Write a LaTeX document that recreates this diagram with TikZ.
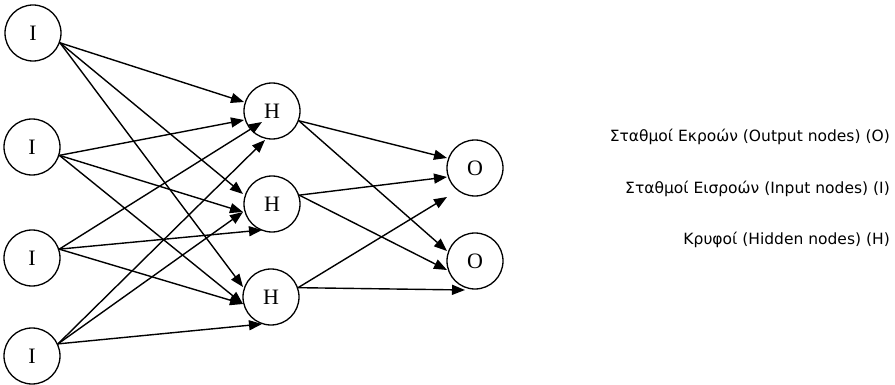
\documentclass[tikz,border=0pt]{standalone}
\usepackage{fontspec}
\setmainfont{Liberation Serif}
\newfontfamily\lblfont{DejaVu Sans}
\usetikzlibrary{arrows.meta,calc}
\begin{document}
\begin{tikzpicture}[x=1pt,y=-1pt,
  neuron/.style={circle,draw,line width=1.3pt,minimum size=56pt,inner sep=0pt,font=\fontsize{22}{22}\selectfont},
  conn/.style={line width=1.4pt,-{Triangle[length=13pt,width=10pt]}},
  lbl/.style={anchor=east,inner sep=0pt,font=\lblfont\fontsize{15.5}{16}\selectfont}]
\useasboundingbox (0,0) rectangle (895,385);
\node[neuron] (I1) at (33,33) {I};
\node[neuron] (I2) at (32,147) {I};
\node[neuron] (I3) at (32,258) {I};
\node[neuron] (I4) at (32,356) {I};
\node[neuron] (H1) at (272,111) {H};
\node[neuron] (H2) at (272,204) {H};
\node[neuron] (H3) at (271,297) {H};
\node[neuron] (O1) at (475,168) {O};
\node[neuron] (O2) at (475,261) {O};
% tips
\coordinate (a11) at ($(H1)+(-28,-9)$);
\coordinate (a12) at ($(H2)+(-29,-10)$);
\coordinate (a13) at ($(H3)+(-28,-10)$);
\coordinate (a21) at ($(H1)+(-28,9)$);
\coordinate (a22) at ($(H2)+(-29,8)$);
\coordinate (a23) at ($(H3)+(-28,7)$);
\coordinate (a31) at ($(H1)+(-10,11)$);
\coordinate (a32) at ($(H2)+(-10,26)$);
\coordinate (a33) at ($(H3)+(-28,7)$);
\coordinate (a41) at ($(H1)+(-7,29)$);
\coordinate (a42) at ($(H2)+(-29,8)$);
\coordinate (a43) at ($(H3)+(-9,27)$);
\coordinate (b11) at ($(O1)+(-28,-10)$);
\coordinate (b12) at ($(O2)+(-28,-10)$);
\coordinate (b21) at ($(O1)+(-28,9)$);
\coordinate (b22) at ($(O2)+(-28,9)$);
\coordinate (b31) at ($(O1)+(-28,29)$);
\coordinate (b32) at ($(O2)+(-10,29)$);
% input -> hidden
\draw[conn] (I1.-20) -- (a11);
\draw[conn] (I1.-20) -- (a12);
\draw[conn] (I1.-20) -- (a13);
\draw[conn] (I2.-17) -- (a21);
\draw[conn] (I2.-17) -- (a22);
\draw[conn] (I2.-17) -- (a23);
\draw[conn] (I3.18) -- (a31);
\draw[conn] (I3.18) -- (a32);
\draw[conn] (I3.18) -- (a33);
\draw[conn] (I4.25) -- (a41);
\draw[conn] (I4.25) -- (a42);
\draw[conn] (I4.25) -- (a43);
% hidden -> output
\draw[conn] (H1.-20) -- (b11);
\draw[conn] (H1.-20) -- (b12);
\draw[conn] (H2.18) -- (b21);
\draw[conn] (H2.18) -- (b22);
\draw[conn] (H3.19) -- (b31);
\draw[conn] (H3.19) -- (b32);
% legend
\node[lbl] (L1) at (890,137) {Σταθμοί Εκροών (Output nodes) (O)};
\node[lbl] (L2) at (890,189) {Σταθμοί Εισροών (Input nodes) (I)};
\node[lbl] (L3) at (890,240) {Κρυφοί (Hidden nodes) (H)};
\end{tikzpicture}
\end{document}
